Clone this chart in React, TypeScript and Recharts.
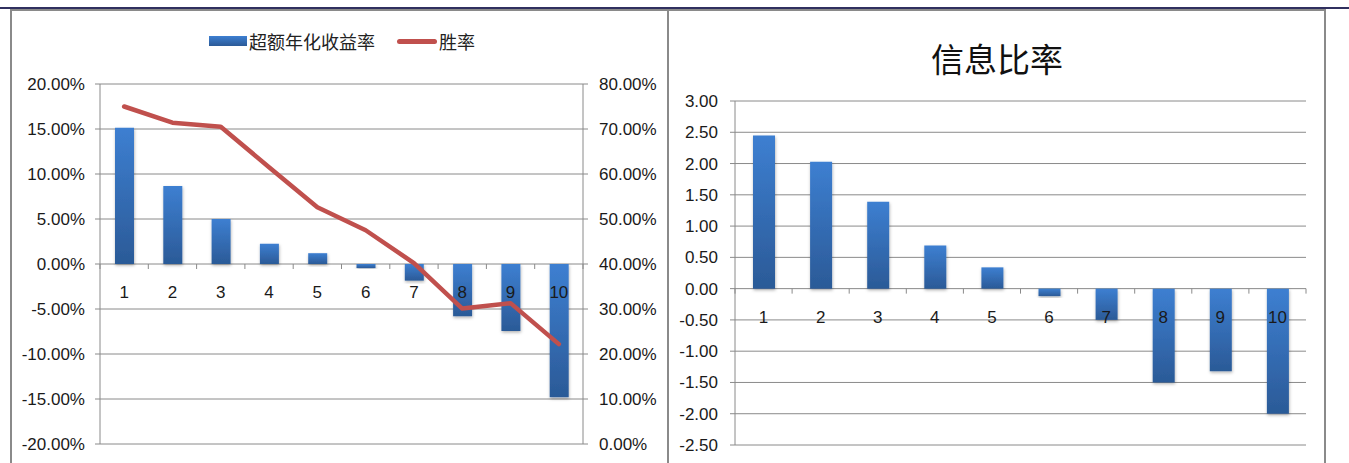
import React from 'react';
import { ComposedChart, BarChart, Bar, Line, XAxis, YAxis, CartesianGrid, Legend } from 'recharts';

// ---- data ----
const categories = ['1', '2', '3', '4', '5', '6', '7', '8', '9', '10'];
const excessReturn = [0.1515, 0.0867, 0.05, 0.0225, 0.012, -0.0045, -0.0185, -0.058, -0.0745, -0.148];
const winRate = [0.75, 0.714, 0.705, 0.615, 0.526, 0.475, 0.402, 0.301, 0.313, 0.222];
const infoRatio = [2.45, 2.03, 1.39, 0.69, 0.34, -0.12, -0.5, -1.5, -1.32, -2.0];

const leftTicks = [-0.2, -0.15, -0.1, -0.05, 0, 0.05, 0.1, 0.15, 0.2];
const rightTicks = [0, 0.1, 0.2, 0.3, 0.4, 0.5, 0.6, 0.7, 0.8];
const irTicks = [-2.5, -2, -1.5, -1, -0.5, 0, 0.5, 1, 1.5, 2, 2.5, 3];

const seriesNames = { ret: '超额年化收益率', win: '胜率', ir: '信息比率' };

const leftData = categories.map((c, i) => ({ cat: c, ret: excessReturn[i], win: winRate[i] }));
const rightData = categories.map((c, i) => ({ cat: c, ir: infoRatio[i] }));

// ---- styles ----
const NUM_FONT = '"Liberation Sans", Arial, sans-serif';
const CJK_FONT = '"Noto Sans CJK SC", "Noto Sans", sans-serif';
const GRID = '#8a8a8a';
const TEXT = '#1a1a1a';
const RED = '#c0504d';
const FS = 17;
const XH = 1;

const L_W = 658;
const L_H = 454;
const L_MARGIN = { top: 74, right: 0, bottom: 20 - XH, left: 0 };
const L_YW = 90;
const L_YRW = 85;
const L_PLOT_W = L_W - L_YW - L_YRW;
const L_PLOT_H = L_H - L_MARGIN.top - L_MARGIN.bottom - XH;

const R_W = 656;
const R_H = 454;
const R_MARGIN = { top: 91, right: 19, bottom: 19 - XH, left: 0 };
const R_YW = 66;
const R_PLOT_W = R_W - R_YW - R_MARGIN.right;
const R_PLOT_H = R_H - R_MARGIN.top - R_MARGIN.bottom - XH;

const pct = (v: number) => `${(v * 100).toFixed(2)}%`;
const fix2 = (v: number) => v.toFixed(2);

// category tick placed on the zero line (Excel style: axis crosses at 0)
const makeCatTick = (plotW: number, zeroFromBottom: number) => (props: any) => {
  const { x, y, payload, index } = props;
  const band = plotW / categories.length;
  const zeroY = y - zeroFromBottom;
  const isLast = index === categories.length - 1;
  return (
    <g>
      <line x1={x - band / 2} y1={zeroY} x2={x - band / 2} y2={zeroY + 5} stroke={GRID} strokeWidth={1} />
      {isLast && <line x1={x + band / 2} y1={zeroY} x2={x + band / 2} y2={zeroY + 5} stroke={GRID} strokeWidth={1} />}
      <text x={x} y={zeroY + 28} dy="0.355em" textAnchor="middle" fontFamily={NUM_FONT} fontSize={FS} fill={TEXT}>
        {payload.value}
      </text>
    </g>
  );
};

const LegendContent = (props: any) => {
  const items = [...(props.payload || [])].sort((a: any, b: any) =>
    a.type === b.type ? 0 : a.type === 'line' ? 1 : -1
  );
  return (
    <div
      style={{
        display: 'flex',
        justifyContent: 'center',
        alignItems: 'center',
        height: 22,
        fontFamily: CJK_FONT,
        fontSize: 18,
        color: '#222',
        paddingLeft: 6,
      }}
    >
      {items.map((it: any, i: number) => (
        <React.Fragment key={i}>
          {it.type === 'line' ? (
            <span
              style={{
                display: 'inline-block',
                width: 40,
                height: 5,
                borderRadius: 3,
                background: RED,
                marginLeft: i > 0 ? 22 : 0,
                marginRight: 2,
              }}
            />
          ) : (
            <span
              style={{
                display: 'inline-block',
                width: 38,
                height: 10,
                background: 'linear-gradient(#3d7fd1, #2b5a97)',
                marginLeft: i > 0 ? 22 : 0,
                marginRight: 2,
              }}
            />
          )}
          <span style={{ lineHeight: '22px' }}>{it.value}</span>
        </React.Fragment>
      ))}
    </div>
  );
};

const axisTick = { fontFamily: NUM_FONT, fontSize: FS, fill: TEXT };

const BarDefs = ({ id }: { id: string }) => (
  <defs>
    <linearGradient id={`grad${id}`} x1="0" y1="0" x2="0" y2="1">
      <stop offset="0%" stopColor="#3d7fd1" />
      <stop offset="100%" stopColor="#2b5a97" />
    </linearGradient>
    <filter id={`shadow${id}`} x="-30%" y="-10%" width="160%" height="130%">
      <feDropShadow dx="0.5" dy="1.5" stdDeviation="1.5" floodColor="#000" floodOpacity="0.3" />
    </filter>
  </defs>
);

export default function App() {
  return (
    <div
      style={{
        position: 'absolute',
        left: 0,
        top: 0,
        width: 1349,
        height: 463,
        overflow: 'hidden',
        background: '#fff',
      }}
    >
      <div style={{ position: 'absolute', left: 0, top: 7, width: 1349, height: 2, background: '#30305f' }} />
      <div
        style={{
          position: 'absolute',
          left: 10,
          top: 9,
          width: 659,
          height: 470,
          boxSizing: 'border-box',
          border: '2px solid #8a8a8a',
        }}
      />
      <div
        style={{
          position: 'absolute',
          left: 667,
          top: 9,
          width: 659,
          height: 470,
          boxSizing: 'border-box',
          border: '2px solid #8a8a8a',
        }}
      />

      {/* Left chart */}
      <div style={{ position: 'absolute', left: 10, top: 10, width: L_W, height: L_H }}>
        <ComposedChart width={L_W} height={L_H} data={leftData} margin={L_MARGIN}>
          <BarDefs id="L" />
          <CartesianGrid horizontal vertical={false} stroke={GRID} strokeWidth={1} yAxisId="left" />
          <XAxis
            dataKey="cat"
            height={XH}
            axisLine={false}
            tickLine={false}
            tickSize={0}
            tickMargin={0}
            interval={0}
            tick={makeCatTick(L_PLOT_W, L_PLOT_H / 2)}
          />
          <YAxis
            yAxisId="left"
            width={L_YW}
            domain={[-0.2, 0.2]}
            ticks={leftTicks}
            interval={0}
            tickFormatter={pct}
            axisLine={{ stroke: GRID }}
            tickLine={{ stroke: GRID }}
            tickSize={5}
            tickMargin={10}
            tick={axisTick}
          />
          <YAxis
            yAxisId="right"
            orientation="right"
            width={L_YRW}
            domain={[0, 0.8]}
            ticks={rightTicks}
            interval={0}
            tickFormatter={pct}
            axisLine={{ stroke: GRID }}
            tickLine={{ stroke: GRID }}
            tickSize={5}
            tickMargin={11}
            tick={axisTick}
          />
          <Legend
            verticalAlign="middle"
            align="center"
            layout="horizontal"
            wrapperStyle={{ top: 20, left: 0, width: L_W }}
            content={<LegendContent />}
          />
          <Bar
            yAxisId="left"
            dataKey="ret"
            name={seriesNames.ret}
            fill="url(#gradL)"
            filter="url(#shadowL)"
            barSize={19}
            isAnimationActive={false}
            legendType="rect"
          />
          <Line
            yAxisId="right"
            dataKey="win"
            name={seriesNames.win}
            type="linear"
            stroke={RED}
            strokeWidth={4.5}
            strokeLinejoin="round"
            strokeLinecap="round"
            dot={false}
            activeDot={false}
            isAnimationActive={false}
            legendType="line"
          />
        </ComposedChart>
      </div>

      {/* Right chart */}
      <div style={{ position: 'absolute', left: 669, top: 10, width: R_W, height: R_H }}>
        <div
          style={{
            position: 'absolute',
            left: 0,
            top: 28,
            width: R_W,
            textAlign: 'center',
            fontFamily: CJK_FONT,
            fontSize: 33,
            lineHeight: '40px',
            color: '#111',
          }}
        >
          {seriesNames.ir}
        </div>
        <BarChart width={R_W} height={R_H} data={rightData} margin={R_MARGIN}>
          <BarDefs id="R" />
          <CartesianGrid horizontal vertical={false} stroke={GRID} strokeWidth={1} />
          <XAxis
            dataKey="cat"
            height={XH}
            axisLine={false}
            tickLine={false}
            tickSize={0}
            tickMargin={0}
            interval={0}
            tick={makeCatTick(R_PLOT_W, (R_PLOT_H * 2.5) / 5.5)}
          />
          <YAxis
            width={R_YW}
            domain={[-2.5, 3]}
            ticks={irTicks}
            interval={0}
            tickFormatter={fix2}
            axisLine={{ stroke: GRID }}
            tickLine={{ stroke: GRID }}
            tickSize={5}
            tickMargin={12}
            tick={axisTick}
          />
          <Bar
            dataKey="ir"
            name={seriesNames.ir}
            fill="url(#gradR)"
            filter="url(#shadowR)"
            barSize={22}
            isAnimationActive={false}
          />
        </BarChart>
      </div>
    </div>
  );
}
